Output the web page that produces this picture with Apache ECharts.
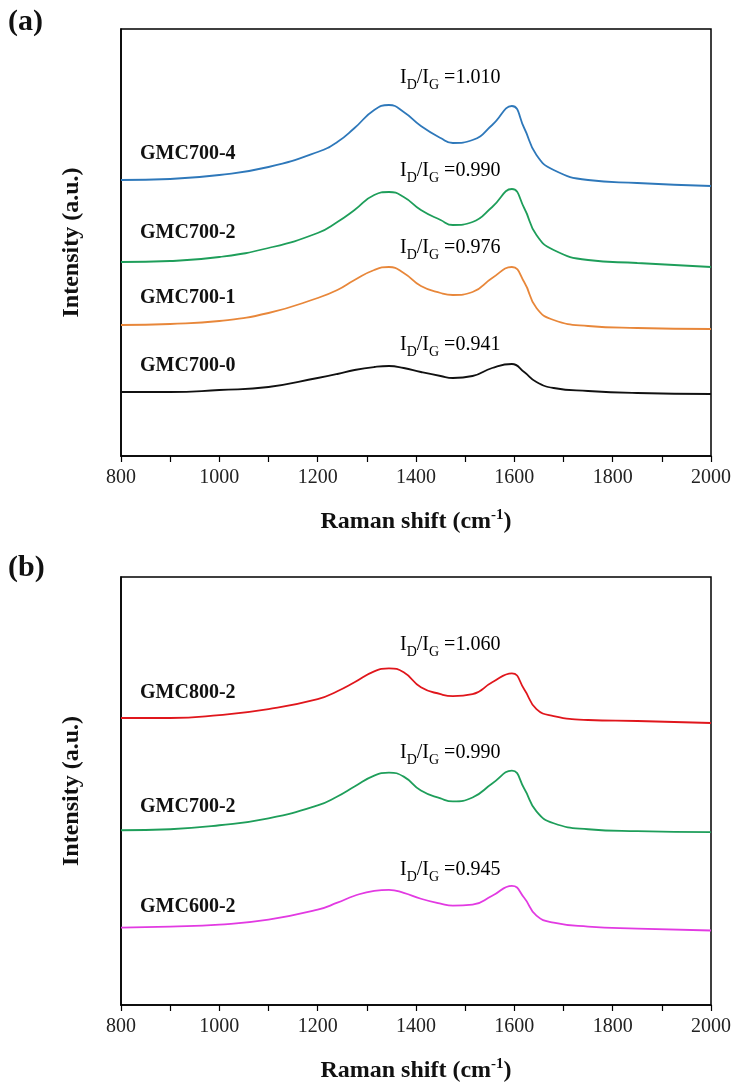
<!DOCTYPE html>
<html>
<head>
<meta charset="utf-8">
<script src="https://cdn.jsdelivr.net/npm/echarts@6/dist/echarts.min.js"></script>
<style>
  html, body { margin: 0; padding: 0; background: #fff; }
  #chart { width: 734px; height: 1084px; }
</style>
</head>
<body>
<div id="chart"></div>
<script>
// Raman shift sample positions (cm-1) shared by every spectrum
const ramanShift = [800, 900, 1000, 1100, 1200, 1240, 1275, 1315, 1345, 1375, 1410, 1450, 1475, 1515, 1555, 1595, 1620, 1645, 1680, 1750, 1850, 2000];

// Panel (a): stacked spectra, intensity in arbitrary units (already offset)
const gmc700_4 = [276, 277, 281, 289, 304, 314, 328, 346, 351, 344, 330, 318, 313, 316, 331, 350, 328, 301, 286, 276, 273, 270];
const gmc700_2 = [194, 195, 199, 208, 223, 234, 246, 261, 264, 259, 246, 236, 231, 234, 249, 267, 248, 221, 206, 196, 193, 189];
const gmc700_1 = [131, 132, 135, 143, 158, 166, 176, 186, 189, 183, 170, 163, 161, 164, 178, 189, 174, 148, 136, 130, 128, 127];
const gmc700_0 = [64, 64, 66, 69, 78, 82, 86, 89, 90, 88, 84, 80, 78, 80, 88, 92, 84, 74, 68, 65, 63, 62];

// Panel (b)
const gmc800_2 = [289, 289, 292, 298, 308, 316, 325, 336, 339, 335, 320, 313, 311, 313, 325, 334, 318, 298, 291, 287, 286, 284];
const gmc700_2b = [176, 177, 181, 188, 201, 210, 220, 231, 234, 230, 216, 208, 205, 209, 223, 236, 218, 195, 183, 177, 175, 174];
const gmc600_2 = [78, 79, 81, 86, 96, 103, 110, 115, 116, 113, 107, 102, 100, 101, 110, 120, 108, 90, 83, 79, 77, 75];

const namesA = ['GMC700-4', 'GMC700-2', 'GMC700-1', 'GMC700-0'];
const ratiosA = ['1.010', '0.990', '0.976', '0.941'];
const namesB = ['GMC800-2', 'GMC700-2', 'GMC600-2'];
const ratiosB = ['1.060', '0.990', '0.945'];

const xTicks = [800, 1000, 1200, 1400, 1600, 1800, 2000];

const SERIF = '"Liberation Serif", "Times New Roman", serif';

const chart = echarts.init(document.getElementById('chart'));

function pairs(ys) { return ramanShift.map((x, i) => [x, ys[i]]); }

function xAxisFor(idx) {
  return {
    gridIndex: idx, type: 'value', min: 800, max: 2000, interval: 100,
    name: '{b|Raman shift (cm}{sup|-1}{b|)}',
    nameLocation: 'middle', nameGap: 50,
    nameTextStyle: {
      rich: {
        b: { fontFamily: SERIF, fontWeight: 'bold', fontSize: 24, color: '#111', lineHeight: 28, verticalAlign: 'bottom' },
        sup: { fontFamily: SERIF, fontWeight: 'bold', fontSize: 15, color: '#111', lineHeight: 28, verticalAlign: 'top', padding: [2, 0, 0, 0] }
      }
    },
    axisLine: { show: true, onZero: false, lineStyle: { color: '#000', width: 1.5 } },
    axisTick: { show: true, inside: false, length: 6, lineStyle: { color: '#000', width: 1.2 } },
    axisLabel: {
      margin: 12, fontFamily: SERIF, fontSize: 20, color: '#222',
      formatter: v => (xTicks.indexOf(v) >= 0 ? String(v) : '')
    },
    splitLine: { show: false }
  };
}

function yAxisFor(idx, max) {
  return {
    gridIndex: idx, type: 'value', min: 0, max: max,
    name: 'Intensity (a.u.)', nameLocation: 'middle', nameGap: 37,
    nameTextStyle: { fontFamily: SERIF, fontWeight: 'bold', fontSize: 24, color: '#111' },
    axisLine: { show: true, lineStyle: { color: '#000', width: 1.5 } },
    axisTick: { show: false }, axisLabel: { show: false }, splitLine: { show: false }
  };
}

function line(name, data, color, xi) {
  return {
    name: name, type: 'line', xAxisIndex: xi, yAxisIndex: xi,
    data: pairs(data), smooth: 0.5, showSymbol: false, symbol: 'none',
    lineStyle: { color: color, width: 1.8 }, z: 3
  };
}

const ratioRich = {
  n: { fontFamily: SERIF, fontSize: 20, color: '#222', lineHeight: 28, verticalAlign: 'middle' },
  s: { fontFamily: SERIF, fontSize: 14, color: '#222', lineHeight: 28, verticalAlign: 'bottom' }
};

function ratioText(value, x, y) {
  return {
    type: 'text', x: x, y: y, z: 10,
    style: {
      text: '{n|I}{s|D}{n|/I}{s|G}{n| =' + value + '}',
      rich: ratioRich, align: 'left', verticalAlign: 'middle'
    }
  };
}

function nameText(label, x, y) {
  return {
    type: 'text', x: x, y: y, z: 10,
    style: {
      text: label, fontFamily: SERIF, fontWeight: 'bold', fontSize: 20,
      fill: '#111', align: 'left', verticalAlign: 'middle'
    }
  };
}

function panelText(label, y) {
  return {
    type: 'text', x: 8, y: y, z: 10,
    style: {
      text: label, fontFamily: SERIF, fontWeight: 'bold', fontSize: 30,
      fill: '#111', align: 'left', verticalAlign: 'middle'
    }
  };
}

const nameYA = [154, 233, 298, 366];
const ratioYA = [78, 171, 248, 345];
const nameYB = [693, 807, 907];
const ratioYB = [645, 753, 870];

const graphics = [panelText('(a)', 22), panelText('(b)', 568)];
namesA.forEach((n, i) => graphics.push(nameText(n, 140, nameYA[i])));
ratiosA.forEach((r, i) => graphics.push(ratioText(r, 400, ratioYA[i])));
namesB.forEach((n, i) => graphics.push(nameText(n, 140, nameYB[i])));
ratiosB.forEach((r, i) => graphics.push(ratioText(r, 400, ratioYB[i])));

chart.setOption({
  animation: false,
  backgroundColor: '#fff',
  grid: [
    { left: 121, top: 29, width: 590, height: 427, show: true, borderColor: '#000', borderWidth: 1.5, backgroundColor: 'transparent' },
    { left: 121, top: 577, width: 590, height: 431, show: true, borderColor: '#000', borderWidth: 1.5, backgroundColor: 'transparent' }
  ],
  xAxis: [xAxisFor(0), xAxisFor(1)],
  yAxis: [yAxisFor(0, 427), yAxisFor(1, 431)],
  series: [
    line('GMC700-4', gmc700_4, '#2E78BA', 0),
    line('GMC700-2', gmc700_2, '#1E9E5A', 0),
    line('GMC700-1', gmc700_1, '#E8873A', 0),
    line('GMC700-0', gmc700_0, '#111111', 0),
    line('GMC800-2', gmc800_2, '#E0161C', 1),
    line('GMC700-2', gmc700_2b, '#1E9E5A', 1),
    line('GMC600-2', gmc600_2, '#E23AE2', 1)
  ],
  graphic: graphics
});
</script>
</body>
</html>
